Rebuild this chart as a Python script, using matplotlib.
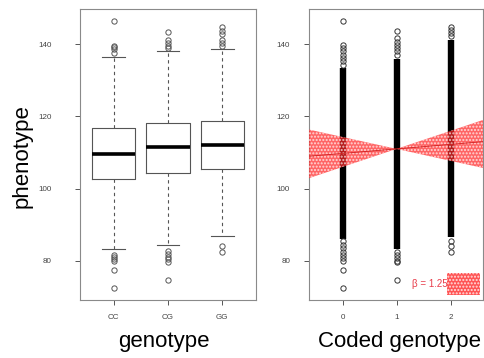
import matplotlib.pyplot as plt
from matplotlib.patches import Rectangle
import numpy as np

plt.rcParams['font.family'] = ['Liberation Sans', 'DejaVu Sans']

# Datos
genotipos = ['CC', 'CG', 'GG']
codigos   = [0, 1, 2]

medianas = [109.5, 111.4, 112.0]
q1       = [102.8, 104.3, 105.5]
q3       = [116.7, 118.1, 118.8]
bigote_i = [83.2, 84.4, 87.0]
bigote_s = [136.5, 138.1, 138.5]

atipicos = [
   [146.4, 139.6, 139.1, 138.5, 137.6, 81.6, 81.1, 80.6, 80.1, 77.6, 72.6],
   [143.4, 141.0, 140.3, 139.5, 138.8, 82.7, 82.0, 81.2, 80.5, 79.8, 74.6],
   [144.6, 143.5, 142.7, 141.0, 140.2, 139.6, 84.1, 82.5],
]

# Columnas de puntos del panel derecho: tramo denso + puntos sueltos
denso_min = [86.0, 83.2, 86.5]
denso_max = [133.4, 136.0, 141.0]
sueltos = [
   [146.4, 139.7, 138.9, 138.0, 137.1, 136.2, 135.2, 134.3,
    85.4, 84.5, 83.5, 82.6, 81.6, 80.8, 80.0, 77.6, 72.6],
   [143.6, 141.6, 140.6, 139.8, 138.9, 138.0, 137.0,
    82.4, 81.6, 80.8, 80.0, 79.6, 74.7],
   [144.8, 143.9, 143.0, 142.2, 85.6, 84.1, 82.5],
]

# Regresion
BETA     = 1.25
PEND_MIN = -3.3
PEND_MAX = 5.0
X_CENTRO = 1.0
Y_CENTRO = 111.0
TEXTO_BETA = 'β = 1.25'

GRIS  = '#555555'
MARCO = '#8a8a8a'
ROJO  = '#ff2a2a'

fig = plt.figure(figsize=(4.84, 3.58), dpi=100)
ax1 = fig.add_axes([80 / 484, 58 / 358, 176 / 484, 291 / 358])
ax2 = fig.add_axes([309 / 484, 58 / 358, 174 / 484, 291 / 358])

# a) Boxplot por genotipo
stats = []
for i, g in enumerate(genotipos):
   stats.append(dict(label=g, med=medianas[i], q1=q1[i], q3=q3[i],
                     whislo=bigote_i[i], whishi=bigote_s[i],
                     fliers=atipicos[i]))

ax1.bxp(stats, positions=[1, 2, 3], widths=0.8, showfliers=True,
        boxprops=dict(color=GRIS, linewidth=0.8),
        medianprops=dict(color='black', linewidth=2.6, solid_capstyle='butt'),
        whiskerprops=dict(color=GRIS, linewidth=0.8, linestyle=(0, (3, 3))),
        capprops=dict(color=GRIS, linewidth=0.8),
        capwidths=0.42,
        flierprops=dict(marker='o', markersize=3.8, markerfacecolor='none',
                        markeredgecolor=GRIS, markeredgewidth=0.7))
ax1.set_xlim(0.38, 3.62)

# b) Genotipo codificado
for i, c in enumerate(codigos):
   ax2.vlines(c, denso_min[i], denso_max[i], color='black', linewidth=4.6)
   ax2.plot([c] * len(sueltos[i]), sueltos[i], 'o', markersize=3.8,
            markerfacecolor='none', markeredgecolor='#333333',
            markeredgewidth=0.7)

ax2.set_xlim(-0.62, 2.6)
xs = np.array(ax2.get_xlim())
y_c = Y_CENTRO + BETA * (xs - X_CENTRO)
xx = np.array([xs[0], X_CENTRO, xs[1]])
ya = Y_CENTRO + PEND_MIN * (xx - X_CENTRO)
yb = Y_CENTRO + PEND_MAX * (xx - X_CENTRO)
ax2.fill_between(xx, np.minimum(ya, yb), np.maximum(ya, yb),
                 facecolor=ROJO, alpha=0.72, edgecolor='white',
                 hatch='.....', linewidth=0, zorder=3)
ax2.plot(xs, y_c, color='#d02020', linewidth=0.6, zorder=4)

ax2.text(1.94, 73.6, TEXTO_BETA, color='#e83c4a', fontsize=7,
         ha='right', va='center', zorder=5)
ax2.add_patch(Rectangle((1.94, 70.6), 0.6, 6.2, facecolor=ROJO, alpha=0.8,
                        edgecolor='white', hatch='.....', linewidth=0,
                        zorder=6))

for ax, pad_y in ((ax1, 17), (ax2, 10)):
   ax.set_ylim(69.2, 149.7)
   ax.set_yticks([80, 100, 120, 140])
   for s in ax.spines.values():
      s.set_color(MARCO)
      s.set_linewidth(0.8)
   ax.tick_params(axis='both', colors=GRIS, labelsize=5.8, length=3.6,
                  width=0.7)
   ax.tick_params(axis='y', pad=pad_y)
   ax.tick_params(axis='x', pad=6.5)
   for t in ax.get_yticklabels() + ax.get_xticklabels():
      t.set_color('#444444')

ax2.set_xticks(codigos)
ax2.set_xticklabels([str(c) for c in codigos])

fig.text(22 / 484, 1 - 156 / 358, 'phenotype', rotation=90, fontsize=16,
         ha='center', va='center')
fig.text(164 / 484, 1 - 342 / 358, 'genotype', fontsize=16,
         ha='center', va='center')
fig.text(399 / 484, 1 - 342 / 358, 'Coded genotype', fontsize=16,
         ha='center', va='center')

fig.savefig('out.png', dpi=100)
